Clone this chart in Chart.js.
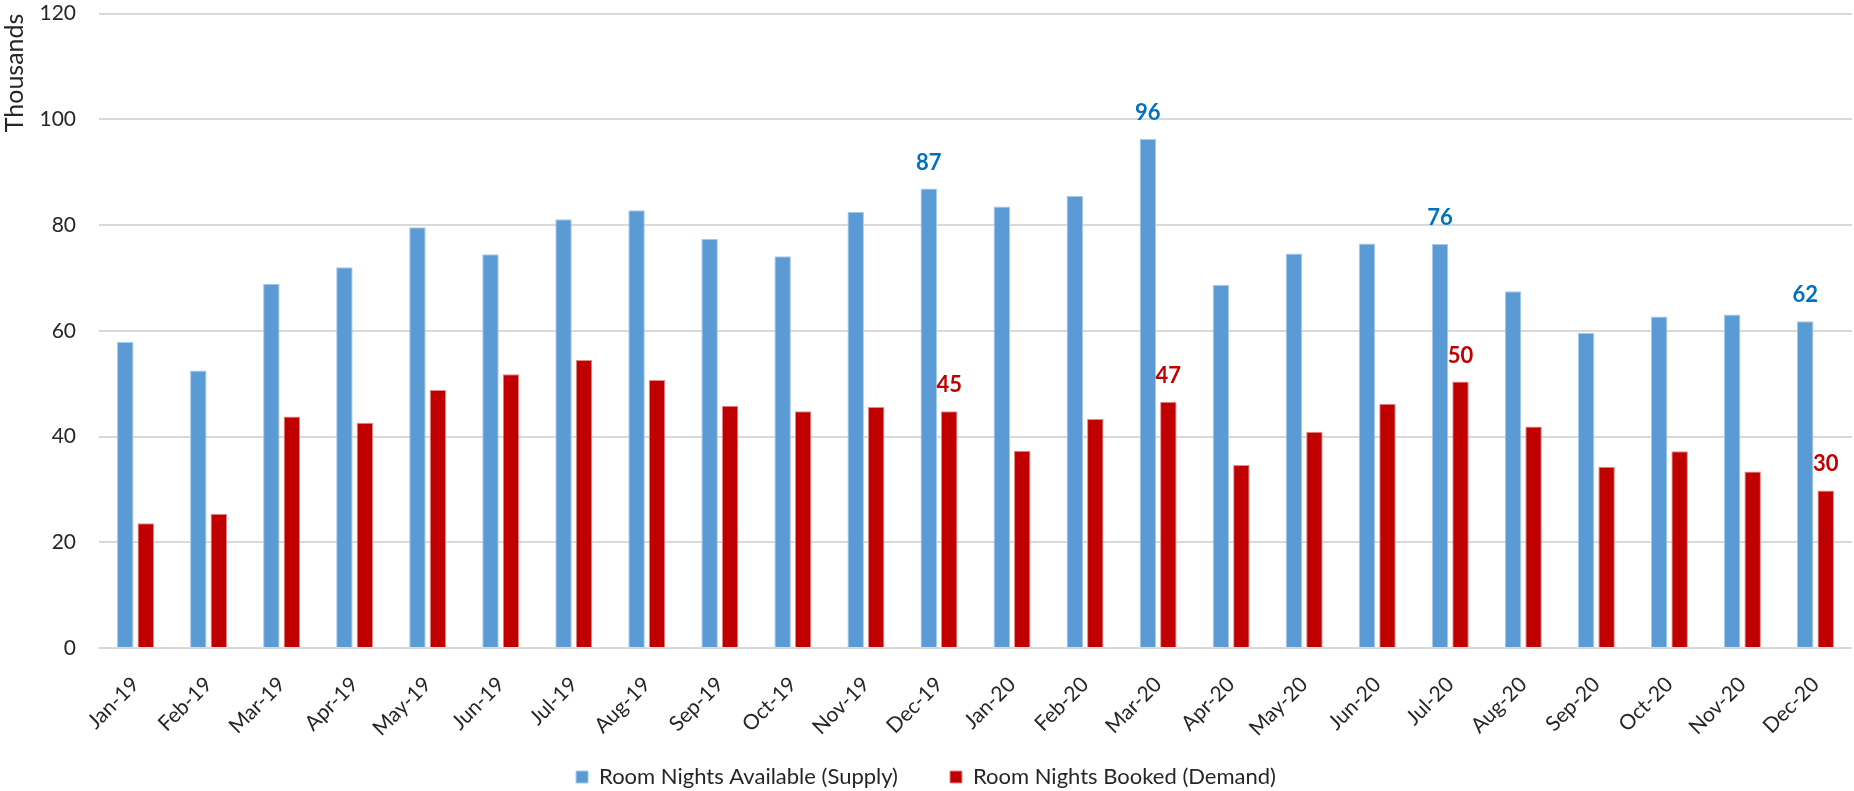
<!DOCTYPE html>
<html>
<head>
<meta charset="utf-8">
<script src="https://cdn.jsdelivr.net/npm/chart.js@4.4.1/dist/chart.umd.min.js"></script>
<style>
  html, body { margin: 0; padding: 0; background: #ffffff; }
  #wrap { width: 1854px; height: 791px; }
</style>
</head>
<body>
<div id="wrap"><canvas id="chart" width="1854" height="791"></canvas></div>
<script>
// Monthly hotel room nights, in thousands
const months = [
  'Jan-19', 'Feb-19', 'Mar-19', 'Apr-19', 'May-19', 'Jun-19',
  'Jul-19', 'Aug-19', 'Sep-19', 'Oct-19', 'Nov-19', 'Dec-19',
  'Jan-20', 'Feb-20', 'Mar-20', 'Apr-20', 'May-20', 'Jun-20',
  'Jul-20', 'Aug-20', 'Sep-20', 'Oct-20', 'Nov-20', 'Dec-20'
];

const supply = [
  57.9, 52.5, 68.9, 72.0, 79.6, 74.5,
  81.1, 82.8, 77.4, 74.1, 82.5, 86.9,
  83.5, 85.5, 96.3, 68.7, 74.6, 76.5,
  76.4, 67.5, 59.6, 62.7, 63.1, 61.8
];

const demand = [
  23.6, 25.4, 43.8, 42.6, 48.8, 51.8,
  54.5, 50.7, 45.8, 44.8, 45.6, 44.8,
  37.3, 43.3, 46.6, 34.6, 40.9, 46.2,
  50.4, 41.9, 34.3, 37.2, 33.4, 29.8
];

const yTicks = [0, 20, 40, 60, 80, 100, 120];

// Months whose values are printed above the bars
const labelledMonths = ['Dec-19', 'Mar-20', 'Jul-20', 'Dec-20'];

const FONT = 'Lato, "Open Sans", sans-serif';
const TEXT = '#262626';
const LEGEND_PAD = 52;

// Prints rounded values above the bars of the highlighted months
const valueLabels = {
  id: 'valueLabels',
  afterDatasetsDraw(chart) {
    const ctx = chart.ctx;
    ctx.save();
    ctx.font = 'bold 22px ' + FONT;
    ctx.textAlign = 'center';
    ctx.textBaseline = 'alphabetic';
    chart.data.datasets.forEach((ds, di) => {
      const meta = chart.getDatasetMeta(di);
      ctx.fillStyle = ds.labelColor;
      labelledMonths.forEach(m => {
        const i = chart.data.labels.indexOf(m);
        const bar = meta.data[i];
        ctx.fillText(String(Math.round(ds.data[i])), bar.x, bar.y - 19);
      });
    });
    ctx.restore();
  }
};

// Lowers the legend row slightly and lets the slanted month labels
// use the space above it without being clipped
const bottomArea = {
  id: 'bottomArea',
  afterLayout(chart) {
    const lg = chart.legend;
    if (lg) {
      lg.top += 7;
      lg.bottom += 7;
      chart.scales.x.bottom = lg.top + LEGEND_PAD - 4;
    }
  }
};

new Chart(document.getElementById('chart'), {
  type: 'bar',
  data: {
    labels: months,
    datasets: [
      {
        label: 'Room Nights Available (Supply)',
        data: supply,
        backgroundColor: '#5B9BD5',
        borderColor: '#A7C9EB',
        borderWidth: 1,
        labelColor: '#0070C0'
      },
      {
        label: 'Room Nights Booked (Demand)',
        data: demand,
        backgroundColor: '#C00000',
        borderColor: '#E38A8A',
        borderWidth: 1,
        labelColor: '#C00000'
      }
    ]
  },
  options: {
    responsive: false,
    animation: false,
    layout: { padding: { top: 0, right: 2, bottom: 0, left: 0 } },
    categoryPercentage: 0.561,
    barPercentage: 0.805,
    plugins: {
      tooltip: { enabled: false },
      legend: {
        position: 'bottom',
        labels: {
          boxWidth: 12,
          boxHeight: 12,
          padding: LEGEND_PAD,
          color: TEXT,
          font: { family: FONT, size: 22 }
        }
      }
    },
    scales: {
      x: {
        grid: {
          display: true,
          drawOnChartArea: false,
          drawTicks: true,
          tickLength: 22,
          tickColor: 'rgba(0,0,0,0)',
          color: 'rgba(0,0,0,0)'
        },
        border: { display: false },
        ticks: {
          color: TEXT,
          font: { family: FONT, size: 21 },
          maxRotation: 45,
          minRotation: 45,
          padding: 2,
          autoSkip: false
        },
        afterFit(scale) { scale.height = 59; }
      },
      y: {
        min: 0,
        max: 120,
        afterBuildTicks(scale) { scale.ticks = yTicks.map(v => ({ value: v })); },
        grid: {
          color: '#D9D9D9',
          lineWidth: 2,
          drawTicks: true,
          tickLength: 22,
          tickColor: 'rgba(0,0,0,0)'
        },
        border: { display: false },
        ticks: {
          color: TEXT,
          font: { family: FONT, size: 21 },
          padding: 1
        },
        title: {
          display: true,
          text: 'Thousands',
          align: 'end',
          color: TEXT,
          font: { family: FONT, size: 25 },
          padding: { top: 0, bottom: 0 }
        },
        afterFit(scale) { scale.width = 99; }
      }
    }
  },
  plugins: [valueLabels, bottomArea]
});
</script>
</body>
</html>
